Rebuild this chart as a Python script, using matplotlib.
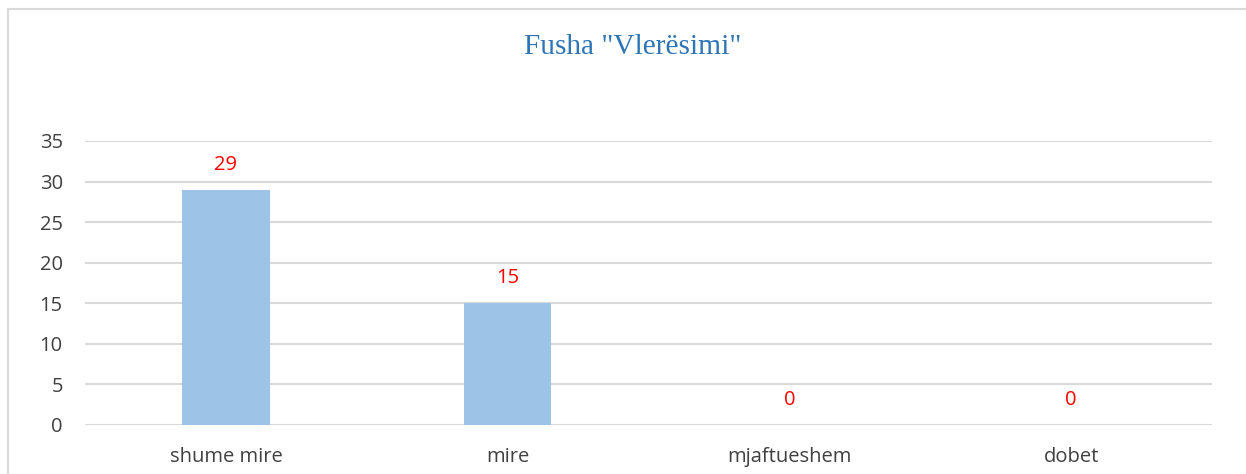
import matplotlib
matplotlib.use("Agg")
import matplotlib.pyplot as plt
from matplotlib.patches import Rectangle

categories = ["shume mire", "mire", "mjaftueshem", "dobet"]
values = [29, 15, 0, 0]
yticks = [0, 5, 10, 15, 20, 25, 30, 35]

W, H = 1246, 474
fig = plt.figure(figsize=(W / 100, H / 100), dpi=100)
ax = fig.add_axes([85 / W, 1 - 425 / H, (1212 - 85) / W, (425 - 141) / H])

# outer chart border (cut off on right and bottom)
fig.patches.append(Rectangle((8 / W, -0.05), 1.2, 1 - 9 / H + 0.05,
                             transform=fig.transFigure, fill=False,
                             edgecolor="#d9d9d9", linewidth=1.5))

x = range(len(categories))
ax.bar(x, values, width=0.31, color="#9dc3e6", zorder=2)

for xi, v in zip(x, values):
    ax.annotate(str(v), (xi, v), xytext=(0, 18), textcoords="offset points",
                ha="center", va="center", color="#ff0000", fontsize=14.5,
                family="Open Sans")

ax.set_xlim(-0.5, len(categories) - 0.5)
ax.set_ylim(0, 35)
ax.set_yticks(yticks)
ax.set_xticks(list(x))
ax.set_xticklabels(categories)
ax.yaxis.grid(True, color="#d9d9d9", linewidth=1.5, zorder=0)
ax.set_axisbelow(True)
for s in ax.spines.values():
    s.set_visible(False)
ax.tick_params(axis="both", length=0, labelsize=14.5, labelcolor="#404040")
ax.tick_params(axis="y", pad=16)
ax.tick_params(axis="x", pad=16)
for lab in ax.get_xticklabels() + ax.get_yticklabels():
    lab.set_family("Open Sans")

fig.text(633 / W, 1 - 47 / H, 'Fusha "Vlerësimi"', ha="center", va="center",
         fontsize=21.2, color="#2e75b6", family="Liberation Serif")

fig.savefig("out.png", dpi=100)
